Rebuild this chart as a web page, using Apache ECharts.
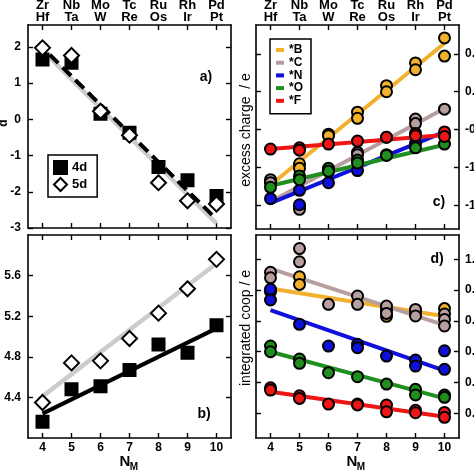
<!DOCTYPE html>
<html>
<head>
<meta charset="utf-8">
<script src="https://cdn.jsdelivr.net/npm/echarts@6/dist/echarts.min.js"></script>
<style>html,body{margin:0;padding:0;background:#fff;}#c{width:474px;height:474px;}</style>
</head>
<body>
<div id="c"></div>
<script>
// ---------- data ----------
const xs = [4, 5, 6, 7, 8, 9, 10];
const topNames = ['Zr\nHf', 'Nb\nTa', 'Mo\nW', 'Tc\nRe', 'Ru\nOs', 'Rh\nIr', 'Pd\nPt'];

// panel a
const a4d = [1.65, 1.56, 0.15, -0.37, -1.32, -1.68, -2.12];
const a5d = [1.97, 1.76, 0.22, -0.44, -1.75, -2.25, -2.34];
const aFit4d = [[4.25, 1.78], [9.95, -2.72]];
const aFit5d = [[4.2, 1.74], [10, -2.87]];
const aTicks = [-3, -2, -1, 0, 1, 2];

// panel b
const b4d = [4.16, 4.48, 4.51, 4.67, 4.92, 4.84, 5.11];
const b5d = [4.35, 4.74, 4.76, 4.98, 5.23, 5.47, 5.76];
const bFit4d = [[4, 4.24], [10, 5.08]];
const bFit5d = [[4, 4.41], [10, 5.72]];
const bTicks = [4.4, 4.8, 5.2, 5.6];

// panel c (excess charge)
const cB = [[4, -1.19], [5, -0.95], [5, -1.01], [6, -0.56], [6, -0.58], [7, -0.27], [7, -0.35], [8, 0.08], [8, 0.0], [9, 0.38], [9, 0.29], [10, 0.71], [10, 0.47]];
const cC = [[4, -1.16], [4, -1.2], [5, -1.5], [5, -1.55], [6, -1.03], [7, -0.80], [7, -0.83], [8, -0.6], [9, -0.36], [9, -0.42], [10, -0.23]];
const cN = [[4, -1.41], [5, -1.30], [5, -1.49], [6, -1.20], [7, -1.04], [8, -0.83], [9, -0.68], [10, -0.57]];
const cO = [[4, -1.26], [5, -1.11], [5, -1.16], [6, -1.01], [6, -1.05], [7, -0.90], [7, -0.94], [8, -0.84], [9, -0.74], [10, -0.69]];
const cF = [[4, -0.756], [5, -0.74], [5, -0.77], [6, -0.69], [7, -0.65], [8, -0.60], [9, -0.55], [9, -0.58], [10, -0.53], [10, -0.59]];
const cFitB = [[4, -1.23], [10, 0.64]];
const cFitC = [[4, -1.45], [10, -0.22]];
const cFitN = [[4, -1.47], [10, -0.53]];
const cFitO = [[4, -1.24], [10, -0.70]];
const cFitF = [[4, -0.756], [10, -0.57]];
const cTicks = [-1.5, -1.0, -0.5, 0.0, 0.5];

// panel d (integrated coop)
const dB = [[4, 0.79], [5, 0.887], [5, 0.837], [8, 0.67], [8, 0.63], [9, 0.66], [10, 0.68]];
const dC = [[4, 0.916], [4, 0.88], [5, 1.07], [5, 0.984], [6, 0.708], [7, 0.762], [7, 0.708], [8, 0.697], [8, 0.649], [9, 0.675], [9, 0.632], [10, 0.645], [10, 0.61], [10, 0.567]];
const dN = [[4, 0.805], [4, 0.736], [5, 0.578], [6, 0.437], [7, 0.448], [7, 0.426], [8, 0.372], [9, 0.346], [9, 0.307], [10, 0.406], [10, 0.286]];
const dO = [[4, 0.437], [4, 0.40], [5, 0.353], [5, 0.325], [6, 0.264], [7, 0.238], [8, 0.19], [9, 0.156], [9, 0.119], [10, 0.119], [10, 0.104]];
const dF = [[4, 0.166], [4, 0.151], [5, 0.114], [5, 0.097], [6, 0.06], [7, 0.06], [7, 0.055], [8, 0.054], [8, 0.01], [9, 0.02], [9, 0.004], [10, 0.006], [10, -0.026]];
const dFitB = [[4, 0.81], [10, 0.63]];
const dFitC = [[4, 0.94], [10, 0.573]];
const dFitN = [[4, 0.67], [10, 0.277]];
const dFitO = [[4, 0.40], [10, 0.097]];
const dFitF = [[4, 0.14], [10, -0.022]];
const dTicks = [0.0, 0.2, 0.4, 0.6, 0.8, 1.0];

const elemNames = ['*B', '*C', '*N', '*O', '*F'];

// ---------- styles ----------
const FONT = 'Liberation Sans';
const colors = { '*B': '#f2b12c', '*C': '#b89f9f', '*N': '#1010dd', '*O': '#1f8f1f', '*F': '#ee1515' };

const grids = [
  { left: 28, top: 25, width: 203, height: 203 },
  { left: 28, top: 235, width: 203, height: 203 },
  { left: 256, top: 25, width: 203, height: 204 },
  { left: 256, top: 235, width: 203, height: 203 }
];
const yRanges = [[-3, 2.6], [4.0, 6.0], [-1.81, 0.88], [-0.16, 1.158]];
const yTickSets = [aTicks, bTicks, cTicks, dTicks];

const lineAx = { show: true, onZero: false, lineStyle: { color: '#000', width: 1.6 } };
function tick(vals) { return { show: true, inside: true, length: 5, lineStyle: { color: '#000', width: 1.4 }, customValues: vals }; }
const labelFont = { color: '#000', fontFamily: FONT, fontWeight: 'bold', fontSize: 12 };

const xAxis = [], yAxis = [];
grids.forEach((g, i) => {
  xAxis.push({
    type: 'value', gridIndex: i, position: 'bottom', min: 3.5, max: 10.5,
    axisLine: lineAx, axisTick: tick(xs), splitLine: { show: false },
    axisLabel: (i === 1 || i === 3)
      ? Object.assign({ show: true, margin: 4, customValues: xs, formatter: v => String(v) }, labelFont)
      : { show: false }
  });
  xAxis.push({
    type: 'value', gridIndex: i, position: 'top', min: 3.5, max: 10.5,
    axisLine: lineAx, axisTick: tick(xs), splitLine: { show: false },
    axisLabel: (i === 0 || i === 2)
      ? Object.assign({ show: true, margin: 2, customValues: xs, lineHeight: 12,
          formatter: v => topNames[xs.indexOf(Math.round(v))] || '' }, labelFont, { fontSize: 13 })
      : { show: false }
  });
  const leftLabels = (i === 0 || i === 1);
  const fmt = i === 0 ? (v => String(Math.round(v))) : (v => v.toFixed(1));
  yAxis.push({
    type: 'value', gridIndex: i, position: 'left', min: yRanges[i][0], max: yRanges[i][1],
    axisLine: lineAx, axisTick: tick(yTickSets[i]), splitLine: { show: false },
    axisLabel: leftLabels ? Object.assign({ show: true, margin: 7, customValues: yTickSets[i], formatter: fmt }, labelFont) : { show: false }
  });
  yAxis.push({
    type: 'value', gridIndex: i, position: 'right', min: yRanges[i][0], max: yRanges[i][1],
    axisLine: lineAx, axisTick: tick(yTickSets[i]), splitLine: { show: false },
    axisLabel: !leftLabels ? Object.assign({ show: true, margin: 6, customValues: yTickSets[i], formatter: fmt }, labelFont) : { show: false }
  });
});

const series = [];
function lineS(name, gi, data, color, width, type) {
  series.push({ type: 'line', name: name, xAxisIndex: gi * 2, yAxisIndex: gi * 2, data: data,
    showSymbol: false, symbol: 'none', silent: true,
    lineStyle: { color: color, width: width, type: type || 'solid', cap: 'butt' },
    itemStyle: { color: color }, z: 2 });
}
function scatS(name, gi, data, symbol, size, fill, z) {
  series.push({ type: 'scatter', name: name, xAxisIndex: gi * 2, yAxisIndex: gi * 2, data: data,
    symbol: symbol, symbolSize: size,
    itemStyle: { color: fill, borderColor: '#000', borderWidth: 2, opacity: 1 }, z: z || 3 });
}
const pairs = arr => xs.map((x, k) => [x, arr[k]]);

lineS('fit5d_a', 0, aFit5d, '#cccccc', 4.5);
lineS('fit4d_a', 0, aFit4d, '#000000', 4, [12, 6]);
scatS('4d', 0, pairs(a4d), 'rect', 12, '#000');
scatS('5d', 0, pairs(a5d), 'diamond', 15, '#fff', 4);
lineS('fit5d_b', 1, bFit5d, '#cccccc', 4.5);
lineS('fit4d_b', 1, bFit4d, '#000000', 4);
scatS('4d', 1, pairs(b4d), 'rect', 12, '#000');
scatS('5d', 1, pairs(b5d), 'diamond', 15, '#fff', 4);
const cPts = [cB, cC, cN, cO, cF], cFits = [cFitB, cFitC, cFitN, cFitO, cFitF];
const dPts = [dB, dC, dN, dO, dF], dFits = [dFitB, dFitC, dFitN, dFitO, dFitF];
elemNames.forEach((n, k) => lineS(n, 2, cFits[k], colors[n], 4));
elemNames.forEach((n, k) => scatS(n, 2, cPts[k], 'circle', 11, colors[n]));
elemNames.forEach((n, k) => lineS(n, 3, dFits[k], colors[n], 4));
elemNames.forEach((n, k) => scatS(n, 3, dPts[k], 'circle', 11, colors[n]));

const txt = (x, y, text, size, extra) => Object.assign({
  type: 'text', x: x, y: y,
  style: { text: text, fill: '#000', font: 'bold ' + size + 'px "' + FONT + '"', textAlign: 'center', textVerticalAlign: 'middle' }
}, extra || {});

const option = {
  animation: false,
  backgroundColor: '#fff',
  grid: grids.map(g => Object.assign({ containLabel: false, outerBoundsMode: 'none' }, g)),
  xAxis: xAxis,
  yAxis: yAxis,
  legend: [
    {
      data: [{ name: '4d', icon: 'rect' }, { name: '5d', icon: 'diamond' }],
      left: 48, top: 155, orient: 'vertical', itemWidth: 13, itemHeight: 13, itemGap: 2,
      padding: [5, 10, 5, 5], borderColor: '#000', borderWidth: 1.5, backgroundColor: '#fff',
      textStyle: { color: '#000', fontFamily: FONT, fontWeight: 'bold', fontSize: 13 },
      selectedMode: false
    },
    {
      data: elemNames.map(n => ({ name: n, icon: 'rect', itemStyle: { color: colors[n], borderWidth: 0 } })),
      left: 270, top: 39, orient: 'vertical', itemWidth: 8, itemHeight: 4, itemGap: 0.7,
      padding: [5, 8, 7, 6], borderColor: '#000', borderWidth: 1.5, backgroundColor: '#fff',
      itemStyle: { borderWidth: 0 },
      textStyle: { color: '#000', fontFamily: FONT, fontWeight: 'bold', fontSize: 12, lineHeight: 12 },
      selectedMode: false
    }
  ],
  graphic: [
    txt(206, 77, 'a)', 14),
    txt(204, 414, 'b)', 14),
    txt(439, 202, 'c)', 14),
    txt(437, 259, 'd)', 14),
    txt(4, 123, 'd', 12, { rotation: Math.PI / 2 }),
    { type: 'text', x: 246, y: 130, rotation: Math.PI / 2,
      style: { text: 'excess charge  / e', fill: '#000', font: '14px "' + FONT + '"', textAlign: 'center', textVerticalAlign: 'middle' } },
    { type: 'text', x: 246, y: 328, rotation: Math.PI / 2,
      style: { text: 'integrated coop / e', fill: '#000', font: '14px "' + FONT + '"', textAlign: 'center', textVerticalAlign: 'middle' } },
    { type: 'text', x: 125, y: 462, style: { text: 'N', fill: '#000', font: 'bold 15px "' + FONT + '"', textAlign: 'center', textVerticalAlign: 'middle' } },
    { type: 'text', x: 134, y: 467, style: { text: 'M', fill: '#000', font: 'bold 10px "' + FONT + '"', textAlign: 'center', textVerticalAlign: 'middle' } },
    { type: 'text', x: 352, y: 462, style: { text: 'N', fill: '#000', font: 'bold 15px "' + FONT + '"', textAlign: 'center', textVerticalAlign: 'middle' } },
    { type: 'text', x: 361, y: 467, style: { text: 'M', fill: '#000', font: 'bold 10px "' + FONT + '"', textAlign: 'center', textVerticalAlign: 'middle' } }
  ],
  series: series
};
const chart = echarts.init(document.getElementById('c'), null, { renderer: 'canvas' });
chart.setOption(option);
</script>
</body>
</html>
